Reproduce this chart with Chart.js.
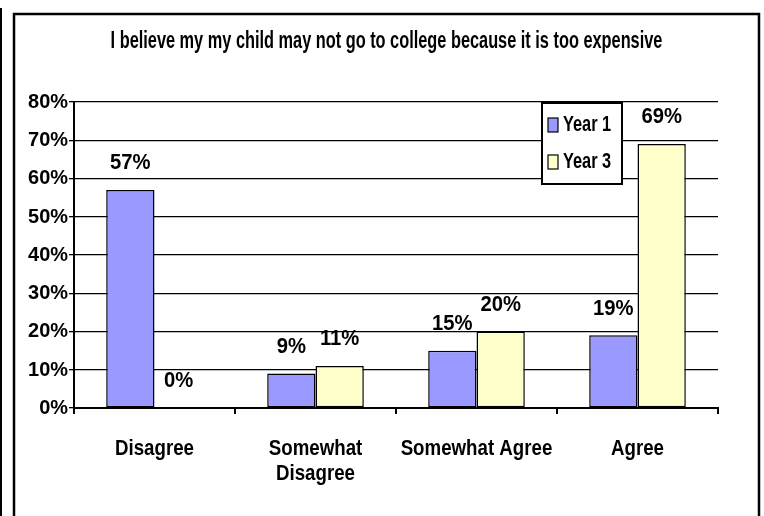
<!DOCTYPE html>
<html>
<head>
<meta charset="utf-8">
<script src="https://cdn.jsdelivr.net/npm/chart.js@4/dist/chart.umd.min.js"></script>
<style>
  html, body { margin: 0; padding: 0; background: #fff; }
  #wrap { width: 764px; height: 516px; position: relative; }
</style>
</head>
<body>
<div id="wrap"><canvas id="c" width="764" height="516"></canvas></div>
<script>
// Survey responses, percent of parents per answer
const titleText = 'I believe my my child may not go to college because it is too expensive';
const categories = ['Disagree', ['Somewhat', 'Disagree'], 'Somewhat Agree', 'Agree'];
const seriesNames = ['Year 1', 'Year 3'];
const year1 = [57, 9, 15, 19];
const year3 = [0, 11, 20, 69];
const yMax = 80;
const yStep = 10;

const seriesColors = ['#9999FF', '#FFFFCC'];
const FONT = "'Liberation Sans', Arial, sans-serif";

// Text sizes, and how much each one is squeezed sideways
const SIZE = { title: 23, yTick: 21, xTick: 22, legend: 21.5, value: 22.5 };
const SQUEEZE = { 23: 0.71, 21: 0.95, 22: 0.85, 21.5: 0.76, 22.5: 0.9 };

const canvas = document.getElementById('c');
const g = canvas.getContext('2d');

// Condensed text: strings are drawn and measured with a horizontal squeeze
(function condense(ctx) {
  const fill = ctx.fillText.bind(ctx);
  const measure = ctx.measureText.bind(ctx);
  const factor = () => {
    const m = /([\d.]+)px/.exec(ctx.font);
    const s = m ? parseFloat(m[1]) : 0;
    return SQUEEZE[s] || 0.82;
  };
  ctx.fillText = function (text, x, y, maxWidth) {
    const sx = factor();
    this.save();
    this.translate(x, y);
    this.scale(sx, 1);
    if (maxWidth === undefined) fill(text, 0, 0);
    else fill(text, 0, 0, maxWidth / sx);
    this.restore();
  };
  ctx.measureText = function (text) {
    const sx = factor();
    const m = measure(text);
    return {
      width: m.width * sx,
      actualBoundingBoxLeft: m.actualBoundingBoxLeft * sx,
      actualBoundingBoxRight: m.actualBoundingBoxRight * sx,
      actualBoundingBoxAscent: m.actualBoundingBoxAscent,
      actualBoundingBoxDescent: m.actualBoundingBoxDescent,
      fontBoundingBoxAscent: m.fontBoundingBoxAscent,
      fontBoundingBoxDescent: m.fontBoundingBoxDescent
    };
  };
})(g);

Chart.defaults.font.family = FONT;
Chart.defaults.font.weight = 'bold';
Chart.defaults.color = '#000';

// Outer frame lines around the whole figure
const framePlugin = {
  id: 'frame',
  afterLayout(chart) {
    // centre the title inside the frame
    if (chart.titleBlock) {
      chart.titleBlock.left = 14;
      chart.titleBlock.right = 759;
    }
  },
  beforeDraw(chart) {
    const ctx = chart.ctx;
    ctx.save();
    ctx.fillStyle = '#fff';
    ctx.fillRect(0, 0, chart.width, chart.height);
    ctx.strokeStyle = '#000';
    ctx.lineWidth = 2;
    ctx.beginPath();
    ctx.moveTo(1, 8);
    ctx.lineTo(1, chart.height);
    ctx.stroke();
    ctx.lineWidth = 2.5;
    ctx.beginPath();
    ctx.moveTo(14, chart.height + 2);
    ctx.lineTo(14, 14);
    ctx.lineTo(759, 14);
    ctx.lineTo(759, chart.height + 2);
    ctx.stroke();
    ctx.restore();
  }
};

// Percent labels above each bar
const valueLabels = {
  id: 'valueLabels',
  afterDatasetsDraw(chart) {
    const ctx = chart.ctx;
    ctx.save();
    ctx.font = 'bold ' + SIZE.value + 'px ' + FONT;
    ctx.fillStyle = '#000';
    ctx.textAlign = 'center';
    ctx.textBaseline = 'middle';
    chart.data.datasets.forEach((ds, di) => {
      const meta = chart.getDatasetMeta(di);
      meta.data.forEach((bar, i) => {
        ctx.fillText(ds.data[i] + '%', bar.x, bar.y - 27);
      });
    });
    ctx.restore();
  }
};

// Boxed legend sitting inside the plot, upper right
const boxLegend = {
  id: 'boxLegend',
  afterDraw(chart) {
    const ctx = chart.ctx;
    const x = 542, y = 103, w = 80, h = 81;
    ctx.save();
    ctx.fillStyle = '#fff';
    ctx.fillRect(x, y, w, h);
    ctx.strokeStyle = '#000';
    ctx.lineWidth = 2;
    ctx.strokeRect(x, y, w, h);
    ctx.font = 'bold ' + SIZE.legend + 'px ' + FONT;
    ctx.textAlign = 'left';
    ctx.textBaseline = 'middle';
    chart.data.datasets.forEach((ds, i) => {
      const cy = y + 22 + i * 37;
      ctx.fillStyle = ds.backgroundColor;
      ctx.fillRect(x + 6, cy - 7, 10, 14);
      ctx.lineWidth = 1.2;
      ctx.strokeStyle = '#000';
      ctx.strokeRect(x + 6, cy - 7, 10, 14);
      ctx.fillStyle = '#000';
      ctx.fillText(ds.label, x + 21, cy);
    });
    ctx.restore();
  }
};

new Chart(canvas, {
  type: 'bar',
  data: {
    labels: categories,
    datasets: [
      { label: seriesNames[0], data: year1, backgroundColor: seriesColors[0] },
      { label: seriesNames[1], data: year3, backgroundColor: seriesColors[1] }
    ]
  },
  options: {
    responsive: false,
    animation: false,
    events: [],
    datasets: {
      bar: {
        categoryPercentage: 0.6,
        barPercentage: 1.0,
        borderColor: '#000',
        borderWidth: 1.5,
        borderSkipped: false
      }
    },
    layout: { padding: { left: 0, right: 46, top: 0, bottom: 0 } },
    plugins: {
      legend: { display: false },
      tooltip: { enabled: false },
      title: {
        display: true,
        text: titleText,
        color: '#000',
        font: { size: SIZE.title, weight: 'bold', family: FONT },
        padding: { top: 28, bottom: 102 - 28 - SIZE.title * 1.2 }
      }
    },
    scales: {
      x: {
        grid: { offset: true, drawOnChartArea: false, drawTicks: true, tickLength: 6, color: '#000', lineWidth: 2 },
        border: { color: '#000', width: 2 },
        ticks: { color: '#000', font: { size: SIZE.xTick, weight: 'bold', lineHeight: 1.15 }, padding: 22, maxRotation: 0, autoSkip: false },
        afterFit: (s) => { s.height = 108; }
      },
      y: {
        min: 0,
        max: yMax,
        ticks: { stepSize: yStep, callback: (v) => v + '%', color: '#000', font: { size: SIZE.yTick, weight: 'bold' }, padding: 1 },
        grid: { color: '#000', lineWidth: 1.3, tickLength: 5 },
        border: { color: '#000', width: 2 },
        afterFit: (s) => { s.width = 74; }
      }
    }
  },
  plugins: [framePlugin, valueLabels, boxLegend]
});
</script>
</body>
</html>
